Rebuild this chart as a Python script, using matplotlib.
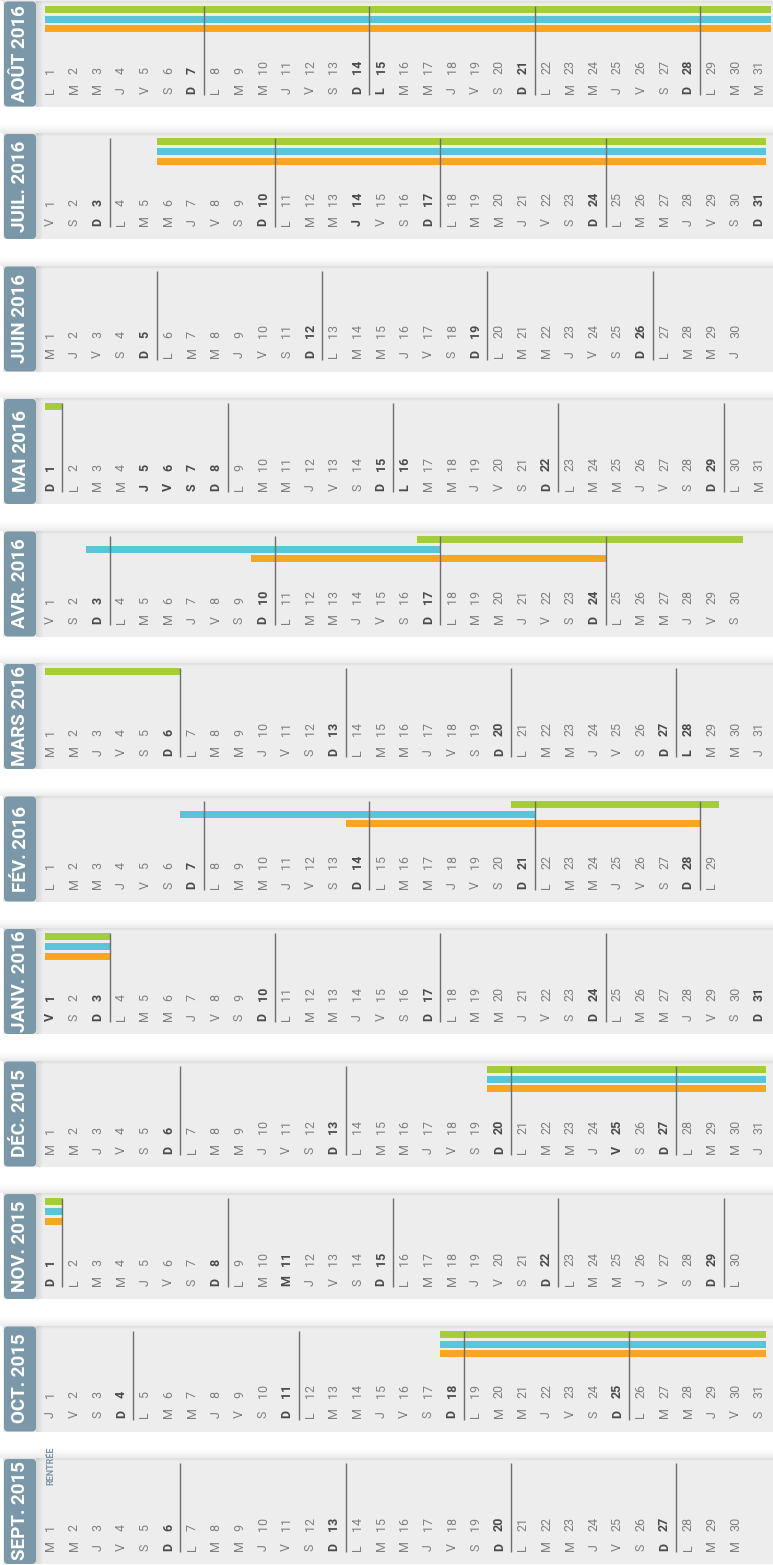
import calendar
import datetime as dt
import matplotlib
matplotlib.use("Agg")
import matplotlib.pyplot as plt
from matplotlib.patches import Rectangle, FancyBboxPatch

plt.rcParams['font.family'] = ['Roboto', 'DejaVu Sans']

# ---------------- data ----------------
months = [(2015, 9), (2015, 10), (2015, 11), (2015, 12), (2016, 1), (2016, 2),
          (2016, 3), (2016, 4), (2016, 5), (2016, 6), (2016, 7), (2016, 8)]
month_labels = ['SEPT. 2015', 'OCT. 2015', 'NOV. 2015', 'DÉC. 2015', 'JANV. 2016',
                'FÉV. 2016', 'MARS 2016', 'AVR. 2016', 'MAI 2016', 'JUIN 2016',
                'JUIL. 2016', 'AOÛT 2016']
weekday_letters = ['L', 'M', 'M', 'J', 'V', 'S', 'D']
holidays = ['2015-11-11', '2015-12-25', '2016-01-01', '2016-03-28', '2016-05-05',
            '2016-05-06', '2016-05-07', '2016-05-16', '2016-07-14', '2016-08-15']

zone_names = ['vert', 'bleu', 'orange']
zone_colors = ['#a5cd39', '#58c5d9', '#f6a623']
# (last school day, last day of holidays)
zone_green = [('2015-10-17', '2015-11-01'), ('2015-12-19', '2016-01-03'),
              ('2016-02-20', '2016-03-06'), ('2016-04-16', '2016-05-01'),
              ('2016-07-05', '2016-08-31')]
zone_blue = [('2015-10-17', '2015-11-01'), ('2015-12-19', '2016-01-03'),
             ('2016-02-06', '2016-02-21'), ('2016-04-02', '2016-04-17'),
             ('2016-07-05', '2016-08-31')]
zone_orange = [('2015-10-17', '2015-11-01'), ('2015-12-19', '2016-01-03'),
               ('2016-02-13', '2016-02-28'), ('2016-04-09', '2016-04-24'),
               ('2016-07-05', '2016-08-31')]
zone_periods = [zone_green, zone_blue, zone_orange]
special_label = ('2015-09-01', 'RENTRÉE')

# ---------------- layout ----------------
W, H = 773, 1565
DPI = 100
STRIP_H = 106
PERIOD = 132.5
SEPT_TOP = 1458
DAY1_PX = 50.5
PITCH = 23.62
BAR_Y = [8.5, 18.5, 28.3]
BAR_H = 7
TAB_COLOR = '#7b98a9'
STRIP_BG = '#ededed'
TXT = '#808080'
TXT_BOLD = '#4a4a4a'
DAY_FS = 9


def px2day(p):
    return 1 + (p - DAY1_PX) / PITCH


fig = plt.figure(figsize=(W / DPI, H / DPI), dpi=DPI)
fig.patch.set_facecolor('white')
deco = fig.add_axes([0, 0, 1, 1])
deco.set_xlim(0, W)
deco.set_ylim(H, 0)
deco.axis('off')
deco.set_zorder(0)

hol = set(dt.date.fromisoformat(h) for h in holidays)

for i, ((yy, mm), lab) in enumerate(zip(months, month_labels)):
    top = SEPT_TOP - i * PERIOD
    # shadow above strip
    for k in range(11):
        deco.add_patch(Rectangle((0, top - k - 1), W, 1, color='black',
                                 alpha=0.075 * ((11 - k) / 11) ** 1.6, lw=0))
    deco.add_patch(Rectangle((3, top), W - 3, STRIP_H, color=STRIP_BG, lw=0))
    # inner top shade
    for k in range(3):
        deco.add_patch(Rectangle((3, top + k), W - 3, 1, color='black',
                                 alpha=0.05 * (3 - k) / 3, lw=0))
    # tab shadow
    for k in range(7):
        deco.add_patch(Rectangle((36 + k, top), 1, STRIP_H, color='black',
                                 alpha=0.09 * (7 - k) / 7, lw=0))
    deco.add_patch(FancyBboxPatch((4, top + 1), 32, STRIP_H - 1,
                                  boxstyle='round,pad=0,rounding_size=4',
                                  fc=TAB_COLOR, ec='none'))
    deco.text(20.5, top + 53, lab, rotation=90, ha='center', va='center',
              color='white', fontsize=13.5, fontweight='bold')

    ax = fig.add_axes([0, 1 - (top + STRIP_H) / H, 1, STRIP_H / H])
    ax.set_xlim(px2day(0), px2day(W))
    ax.set_ylim(STRIP_H, 0)
    ax.axis('off')
    ax.patch.set_alpha(0)
    ax.set_zorder(1)

    ndays = calendar.monthrange(yy, mm)[1]
    mstart = dt.date(yy, mm, 1)
    mend = dt.date(yy, mm, ndays)

    # holiday bars
    for z, periods in enumerate(zone_periods):
        for s, e in periods:
            s = dt.date.fromisoformat(s)
            e = dt.date.fromisoformat(e)
            if e < mstart or s > mend:
                continue
            x0 = s.day + 0.5 if s >= mstart else 0.77
            x1 = e.day + 0.5 if e <= mend else ndays + 0.3
            if x1 <= x0:
                continue
            ax.barh(BAR_Y[z], x1 - x0, left=x0, height=BAR_H,
                    color=zone_colors[z], edgecolor='none', zorder=2)

    # day labels and week separators
    for d in range(1, ndays + 1):
        date = dt.date(yy, mm, d)
        wd = date.weekday()
        bold = (wd == 6) or (date in hol)
        col = TXT_BOLD if bold else TXT
        fw = 'bold' if bold else 'normal'
        ax.text(d, 93, weekday_letters[wd], rotation=90, ha='center', va='bottom',
                fontsize=DAY_FS, color=col, fontweight=fw, zorder=4)
        ax.text(d, 73, str(d), rotation=90, ha='center', va='bottom',
                fontsize=DAY_FS, color=col, fontweight=fw, zorder=4)
        if wd == 6 and d < ndays:
            ax.vlines(d + 0.5, 5, 94, color='#6e6e6e', lw=1.0, zorder=3)

    sd, stxt = special_label
    sd = dt.date.fromisoformat(sd)
    if (sd.year, sd.month) == (yy, mm):
        ax.text(sd.day, 27, stxt, rotation=90, ha='center', va='bottom',
                fontsize=6.5, color=TAB_COLOR, fontweight='bold', zorder=4)

fig.savefig('out.png', dpi=DPI)
